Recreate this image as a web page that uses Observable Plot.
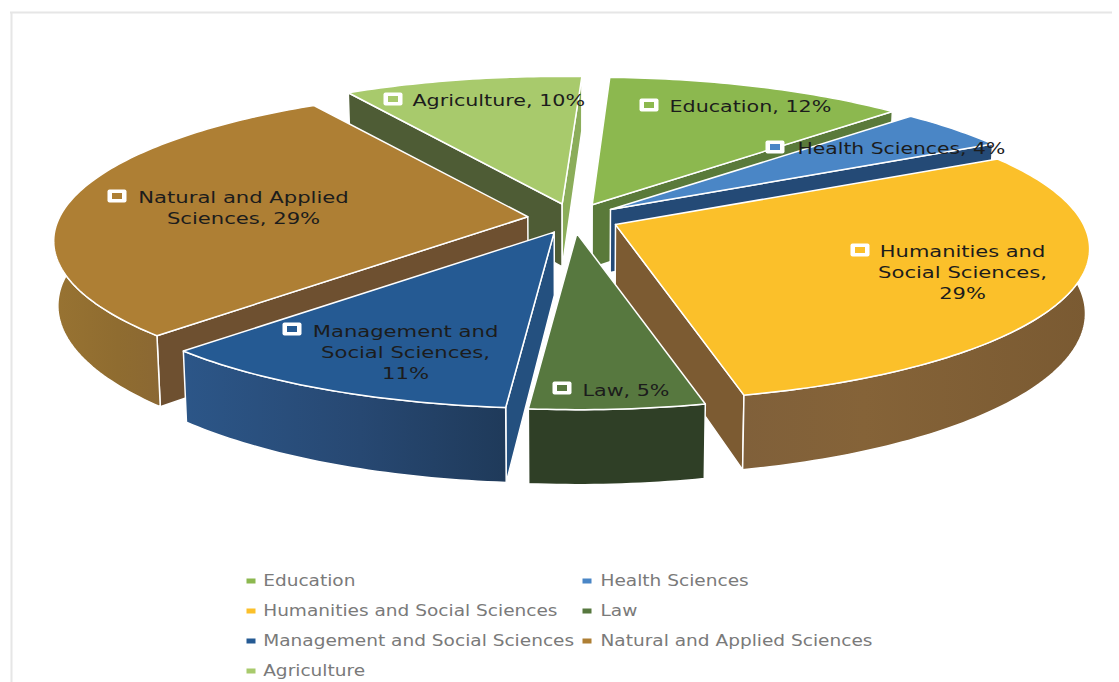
<!DOCTYPE html>
<html><head><meta charset="utf-8">
<script src="https://cdn.jsdelivr.net/npm/d3@7"></script>
<script src="https://cdn.jsdelivr.net/npm/@observablehq/plot@0.6"></script>
<style>
html,body{margin:0;padding:0;background:#fff;overflow:hidden}
</style></head><body><div id="chart"></div>
<script>
// ---- data ----
const categories = ["Education","Health Sciences","Humanities and Social Sciences","Law","Management and Social Sciences","Natural and Applied Sciences","Agriculture"];
const shares = [12,4,29,5,11,29,10];
const labelLines = [["Education, 12%"],["Health Sciences, 4%"],["Humanities and","Social Sciences,","29%"],["Law, 5%"],["Management and","Social Sciences,","11%"],["Natural and Applied","Sciences, 29%"],["Agriculture, 10%"]];

// ---- styles ----
const topColors  = ["#8cb84f","#4a86c6","#fbc02a","#57783f","#255a93","#ae7f34","#a8ca6c"];
const startFace  = ["#5a7a3a","#234a75","#7d5a32","#3a5028","#24507f","#6e5030","#4e5c35"];
const endFace    = ["#5a7a3a","#244a76","#7c5b32","#3a5028","#24507f","#6e5030","#8bad5a"];
const wallFill   = ["#5a7a3a","#234a75","url(#wallH)","#2f3f26","url(#wallM)","url(#wallN)","#4e5c35"];

// ---- 3D view ----
const view = {cx:573, cy:218, ex:46, ey:15, a:468, b:148, k:0.16, h:63, taper:0.008};
// the tilted camera turns the shares' boundary angles slightly
const boundaryShift = [2.5,2.3,3.9,4.6,5.0,5.0,4.7,2.8];
const rad = d => d*Math.PI/180;

const total = d3.sum(shares);
const boundaries = [0,...d3.cumsum(shares)].map((c,i)=>c/total*360+boundaryShift[i]);
const slices = shares.map((s,i)=>{
  const a0 = boundaries[i], a1 = boundaries[i+1];
  const mid = (a0+a1)/2;
  return {i,a0,a1,mid,
    ax:view.cx+view.ex*Math.sin(rad(mid)),
    ay:view.cy-view.ey*Math.cos(rad(mid))};
});
function pt(sl,deg,r,bottom){
  const X=r*Math.sin(rad(deg)), Y=r*Math.cos(rad(deg)), w=1+view.k*Y;
  let x=sl.ax+view.a*X/w, y=sl.ay-view.b*Y/w;
  if(bottom){ y+=view.h/w; x+=(view.cx-x)*view.taper; }
  return {x,y};
}
function arc(sl,d0,d1,bottom){
  const n=Math.max(2,Math.ceil(Math.abs(d1-d0)));
  return d3.range(n+1).map(j=>pt(sl,d0+(d1-d0)*j/n,1,bottom));
}
const closed = p => [...p,p[0]];
const face = (p,fill)=>Plot.line(closed(p),{x:"x",y:"y",fill,stroke:"#fff",strokeWidth:1.5,strokeLinejoin:"round"});

function sliceMarks(sl){
  const i=sl.i, m=[];
  const side=(deg,fill,wantPositive)=>{
    const o=pt(sl,deg,1,false), ob=pt(sl,deg,1,true), cb=pt(sl,deg,0,true), c=pt(sl,deg,0,false);
    const cross=(o.x-c.x)*(ob.y-o.y)-(o.y-c.y)*(ob.x-o.x);
    if((cross>0)===wantPositive) m.push(face([c,o,ob,cb],fill));
  };
  side(sl.a0,startFace[i],false);
  side(sl.a1,endFace[i],true);
  const w0=Math.max(sl.a0,75), w1=Math.min(sl.a1,285);
  if(w1>w0) m.push(face([...arc(sl,w0,w1,false),...arc(sl,w1,w0,true)],wallFill[i]));
  m.push(face([pt(sl,sl.a0,0,false),...arc(sl,sl.a0,sl.a1,false)],topColors[i]));
  return m;
}
// back slices first, then the front ones
const paintOrder=[6,0,1,5,2,4,3];

// ---- label layout ----
const markerTargets=[[649,105],[775,147],[860,250],[562,388],[292,329],[117,196],[393,99]];
const textOffset=[[20,1],[22,1],[102,1],[20,2],[113,2],[126,1],[19,1]];
const labelAnchor=["start","start","middle","start","middle","middle","start"];
const labelStretch=[1.29,1.27,1.31,1.29,1.32,1.32,1.29];
const lineH=21.3;
const markerPts=slices.map(s=>({x:markerTargets[s.i][0],y:markerTargets[s.i][1],i:s.i}));
const labelPts=markerPts.flatMap(p=>labelLines[p.i].map((t,j)=>({t,i:p.i,x:p.x+textOffset[p.i][0],y:p.y+textOffset[p.i][1]+j*lineH})));

// ---- legend ----
const legendCols=[251,587], legendTextCols=[262.7,600], legendRows=[581,611,641,671];
const legendPts=categories.map((c,i)=>({c,i,x:legendCols[i%2],tx:legendTextCols[i%2],y:legendRows[Math.floor(i/2)]}));

const defs=()=>{
  const s=d3.create("svg:defs");
  const g=(id,st)=>{const l=s.append("linearGradient").attr("id",id);
    st.forEach(([o,c])=>l.append("stop").attr("offset",o).attr("stop-color",c));};
  g("wallH",[[0,"#80603a"],[.35,"#856338"],[1,"#7a5a32"]]);
  g("wallM",[[0,"#2c5688"],[.55,"#274872"],[1,"#1f3a5a"]]);
  g("wallN",[[0,"#987332"],[.6,"#8f6c30"],[1,"#8b6833"]]);
  return s.node();
};

const plot=Plot.plot({
  width:1119,height:682,margin:0,
  x:{domain:[0,1119],range:[0,1119],axis:null},
  y:{domain:[0,682],range:[0,682],axis:null},
  style:{background:"#fff",fontFamily:"'DejaVu Sans',sans-serif"},
  marks:[
    defs,
    Plot.ruleY([12],{x1:10,x2:1112,stroke:"#e6e6e6",strokeWidth:2}),
    Plot.ruleX([11],{y1:12,y2:682,stroke:"#e6e6e6",strokeWidth:2}),
    ...paintOrder.flatMap(i=>sliceMarks(slices[i])),
    Plot.rect(markerPts,{x1:d=>d.x-9.5,x2:d=>d.x+9.5,y1:d=>d.y-6.5,y2:d=>d.y+6.5,rx:2,fill:"#fff"}),
    Plot.rect(markerPts,{x1:d=>d.x-5,x2:d=>d.x+5,y1:d=>d.y-3,y2:d=>d.y+3,fill:d=>topColors[d.i]}),
    Plot.text(labelPts.filter(d=>labelAnchor[d.i]==="start"),{x:"x",y:"y",text:"t",fontSize:16,fill:"#1c1c1c",textAnchor:"start",className:"lbl"}),
    Plot.text(labelPts.filter(d=>labelAnchor[d.i]==="middle"),{x:"x",y:"y",text:"t",fontSize:16,fill:"#1c1c1c",textAnchor:"middle",className:"lbl"}),
    Plot.rect(legendPts,{x1:d=>d.x-4.5,x2:d=>d.x+4.5,y1:d=>d.y-2.5,y2:d=>d.y+2.5,fill:d=>topColors[d.i]}),
    Plot.text(legendPts,{x:"tx",y:"y",text:"c",fontSize:15,fill:"#7a7a7a",textAnchor:"start",className:"leg"})
  ]
});
document.getElementById("chart").appendChild(plot);
// the reference's type is stretched sideways
const lineStretch=new Map(labelPts.map(d=>[d.t,labelStretch[d.i]]));
plot.querySelectorAll(".lbl text").forEach(t=>{
  t.setAttribute("textLength",t.getComputedTextLength()*(lineStretch.get(t.textContent)||1.3));
  t.setAttribute("lengthAdjust","spacingAndGlyphs");
});
plot.querySelectorAll(".leg text").forEach(t=>{
  t.setAttribute("textLength",t.getComputedTextLength()*1.235);
  t.setAttribute("lengthAdjust","spacingAndGlyphs");
});
</script></body></html>
